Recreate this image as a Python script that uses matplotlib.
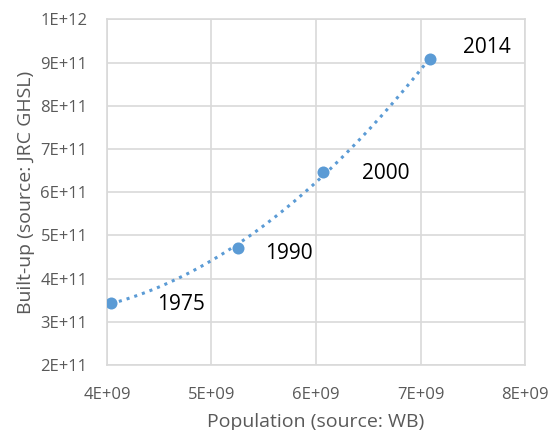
import matplotlib.pyplot as plt
import numpy as np

years = ['1975', '1990', '2000', '2014']
population = [4.04e9, 5.25e9, 6.07e9, 7.09e9]
builtup = [3.44e11, 4.72e11, 6.47e11, 9.08e11]

# label offsets in points (excel placed them by hand)
label_dx = [33, 20, 28, 24]
label_dy = [-1, -4, -1, 8]

blue = '#5b9bd5'
grey = '#595959'

plt.rcParams['font.family'] = ['Open Sans', 'DejaVu Sans']

fig = plt.figure(figsize=(5.51, 4.30), dpi=100)
ax = fig.add_axes([0.194, 0.151, 0.759, 0.804])

# polynomial (order 2) trendline like excel
x = np.array(population) / 1e9
y = np.array(builtup) / 1e11
c = np.polyfit(x, y, 2)
xs = np.linspace(x[0], x[-1], 200)
ax.plot(xs * 1e9, np.polyval(c, xs) * 1e11, ':', color=blue, lw=2.2, zorder=2)

ax.scatter(population, builtup, s=75, color=blue, zorder=3, linewidths=0)

for yr, px, py, dx, dy in zip(years, population, builtup, label_dx, label_dy):
    ax.annotate(yr, (px, py), xytext=(dx, dy), textcoords='offset points',
                fontsize=15, color='black', va='center', ha='left')

ax.set_xlim(4e9, 8e9)
ax.set_ylim(2e11, 1e12)
ax.set_xticks(np.arange(4e9, 8.1e9, 1e9))
ax.set_yticks(np.arange(2e11, 1.01e12, 1e11))
ax.set_xticklabels(['%dE+09' % v for v in range(4, 9)])
ax.set_yticklabels(['%dE+11' % v for v in range(2, 10)] + ['1E+12'])
ax.grid(True, color='#d9d9d9', lw=1.2)
ax.set_axisbelow(True)
for s in ax.spines.values():
    s.set_color('#d9d9d9')
    s.set_linewidth(1.2)
ax.tick_params(length=0, labelsize=12, labelcolor=grey)
ax.tick_params(axis='x', pad=16)
ax.tick_params(axis='y', pad=14)

ax.set_xlabel('Population (source: WB)', fontsize=14, color=grey, labelpad=7)
ax.set_ylabel('Built-up (source: JRC GHSL)', fontsize=14, color=grey, labelpad=4)

fig.savefig('out.png', dpi=100)
